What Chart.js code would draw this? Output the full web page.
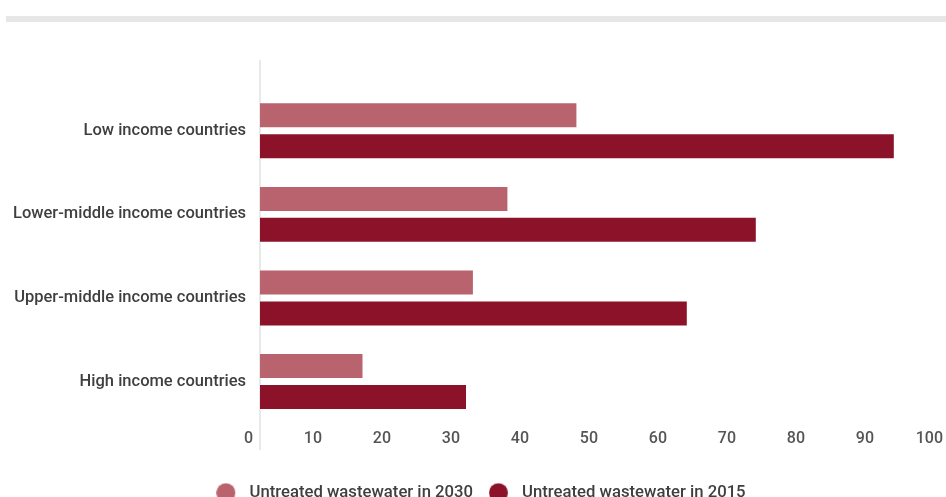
<!DOCTYPE html>
<html>
<head>
<meta charset="utf-8">
<script src="https://cdn.jsdelivr.net/npm/chart.js@4"></script>
<style>
  html, body { margin: 0; padding: 0; background: #fff; overflow: hidden; }
  #wrap { position: relative; width: 960px; height: 511px; }
  #band { position: absolute; left: 6px; top: 16px; width: 960px; height: 6px; background: #e7e7e7; }
</style>
</head>
<body>
<div id="wrap">
  <div id="band"></div>
  <canvas id="chart" width="960" height="511"></canvas>
</div>
<script>
// ---- data ----
const categories = ["Low income countries", "Lower-middle income countries", "Upper-middle income countries", "High income countries"];
const untreated2030 = [46, 36, 31, 15];
const untreated2015 = [92, 72, 62, 30];
const xTicks = [0, 10, 20, 30, 40, 50, 60, 70, 80, 90, 100];

const colorLight = "#b9636f";
const colorDark = "#8b1228";

// legend dot: circle sits at the left of a wider box so the text gets more room
function legendDot(color) {
  const c = document.createElement("canvas");
  c.width = 25; c.height = 20;
  const g = c.getContext("2d");
  g.fillStyle = color;
  g.beginPath();
  g.arc(9.6, 10, 9.5, 0, Math.PI * 2);
  g.fill();
  return c;
}
const dots = [legendDot(colorLight), legendDot(colorDark)];

// vertical axis line that runs past the plot area
const axisLine = {
  id: "axisLine",
  beforeDatasetsDraw(chart) {
    const { ctx, chartArea, scales } = chart;
    const x = scales.x.getPixelForValue(0);
    ctx.save();
    ctx.strokeStyle = "#e2e2e2";
    ctx.lineWidth = 1.5;
    ctx.beginPath();
    ctx.moveTo(x, chartArea.top - 29);
    ctx.lineTo(x, chartArea.bottom + 27);
    ctx.stroke();
    ctx.restore();
  }
};

new Chart(document.getElementById("chart"), {
  type: "bar",
  data: {
    labels: categories,
    datasets: [
      { label: "Untreated wastewater in 2030", data: untreated2030, backgroundColor: colorLight, borderColor: "rgba(255,255,255,0.35)", borderWidth: 1, categoryPercentage: 0.74, barPercentage: 0.84 },
      { label: "Untreated wastewater in 2015", data: untreated2015, backgroundColor: colorDark, borderColor: "rgba(255,255,255,0.35)", borderWidth: 1, categoryPercentage: 0.74, barPercentage: 0.84 }
    ]
  },
  options: {
    indexAxis: "y",
    responsive: false,
    animation: false,
    layout: { padding: { top: 89, right: 10, left: 12, bottom: 0 } },
    scales: {
      x: {
        min: 0,
        max: 100,
        afterBuildTicks: (s) => { s.ticks = xTicks.map(v => ({ value: v })); },
        afterFit: (s) => { s.height = 45; },
        grid: { display: false, drawTicks: false },
        border: { display: false },
        ticks: { align: "end", labelOffset: -7, padding: 6, color: "#555", font: { family: "Roboto", size: 16, weight: "500" } }
      },
      y: {
        afterFit: (s) => { s.width = 248; },
        grid: { display: false, drawTicks: false },
        border: { display: false },
        ticks: { padding: 14, color: "#3f3f3f", font: { family: "Roboto", size: 16.5, weight: "500" } }
      }
    },
    plugins: {
      tooltip: { enabled: false },
      legend: {
        position: "bottom",
        labels: {
          usePointStyle: true,
          pointStyleWidth: 24.75,
          boxHeight: 16,
          padding: 16,
          color: "#3f3f3f",
          font: { family: "Roboto", size: 16.7, weight: "500" },
          generateLabels: (chart) => {
            const items = Chart.defaults.plugins.legend.labels.generateLabels(chart);
            items.forEach((it, i) => { it.pointStyle = dots[i]; });
            return items;
          }
        }
      }
    }
  },
  plugins: [axisLine]
});
</script>
</body>
</html>
